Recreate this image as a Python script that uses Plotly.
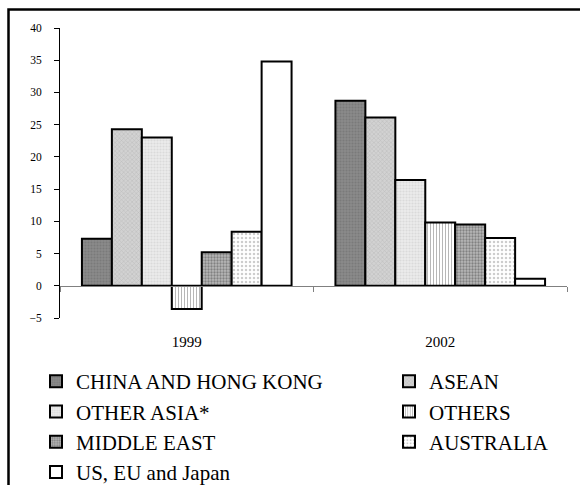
import plotly.graph_objects as go

# Years on the category axis
years = ["1999", "2002"]

# Series names and their values (per cent) for 1999 and 2002
china_hk = [7.3, 28.7]
asean = [24.3, 26.1]
other_asia = [23.0, 16.4]
others = [-3.6, 9.8]
middle_east = [5.2, 9.5]
australia = [8.4, 7.4]
us_eu_japan = [34.8, 1.1]

# name, values, fill pattern, legend column
series = [
    ("CHINA AND HONG KONG", china_hk, dict(shape=".", fgcolor="#6a6a6a", bgcolor="#8a8a8a", size=3, solidity=0.4), "legend"),
    ("ASEAN", asean, dict(shape="x", fgcolor="#a8a8a8", bgcolor="#d2d2d2", size=3, solidity=0.35), "legend2"),
    ("OTHER ASIA*", other_asia, dict(shape=".", fgcolor="#c8c8c8", bgcolor="#ececec", size=3, solidity=0.4), "legend"),
    ("OTHERS", others, dict(shape="|", fgcolor="#707070", bgcolor="#ffffff", size=3, solidity=0.35), "legend2"),
    ("MIDDLE EAST", middle_east, dict(shape=".", fgcolor="#4a4a4a", bgcolor="#b8b8b8", size=3, solidity=0.45), "legend"),
    ("AUSTRALIA", australia, dict(shape=".", fgcolor="#9a9a9a", bgcolor="#ffffff", size=4, solidity=0.3), "legend2"),
    ("US, EU and Japan", us_eu_japan, dict(shape="", fgcolor="#ffffff", bgcolor="#ffffff"), "legend"),
]

W, H = 580, 485
ML, MR, MT, MB = 60, 13, 28, 167
PW, PH = W - ML - MR, H - MT - MB
FONT = "Liberation Serif, Times New Roman, serif"


def px_x(px):
    return (px - ML) / PW


def px_y(py):
    return (H - MB - py) / PH


fig = go.Figure()
for name, vals, pat, leg in series:
    fig.add_trace(go.Bar(
        name=name, x=years, y=vals, legend=leg,
        marker=dict(color=pat["bgcolor"], line=dict(color="black", width=2), pattern=pat),
    ))

# outer frame: its top and left edges, drawn as one open path
x_left, y_top = px_x(8.5), px_y(9.5)
x_right, y_bottom = px_x(W + 5), px_y(H + 5)
fig.add_shape(type="path", xref="paper", yref="paper", layer="above",
              path=f"M {x_right},{y_top} L {x_left},{y_top} L {x_left},{y_bottom}",
              line=dict(color="black", width=2.5), fillcolor="rgba(0,0,0,0)")

legend_common = dict(
    orientation="v", xanchor="left", yanchor="top", yref="container",
    y=1 - 361 / H,
    font=dict(family=FONT, size=21), traceorder="normal",
    itemclick=False, itemdoubleclick=False, bgcolor="rgba(0,0,0,0)",
    tracegroupgap=0,
)

fig.update_layout(
    width=W, height=H,
    margin=dict(l=ML, r=MR, t=MT, b=MB, autoexpand=False),
    paper_bgcolor="white", plot_bgcolor="white",
    font=dict(family=FONT, color="black"),
    barmode="group", bargap=0.173, bargroupgap=0,
    showlegend=True,
    legend=dict(x=px_x(36), **legend_common),
    legend2=dict(x=px_x(389), **legend_common),
    xaxis=dict(
        type="category", anchor="free", position=5 / 45,
        showline=True, linecolor="#808080", linewidth=1,
        ticks="outside", tickson="boundaries", ticklen=5, tickcolor="#808080",
        ticklabelstandoff=42, tickfont=dict(size=15, family=FONT),
        showgrid=False, zeroline=False,
    ),
    yaxis=dict(
        range=[-5, 40], dtick=5, tick0=0,
        showline=True, linecolor="black", linewidth=1,
        ticks="outside", ticklen=5, tickcolor="black",
        ticklabelstandoff=10, tickfont=dict(size=11.5, family=FONT),
        showgrid=False, zeroline=False,
    ),
)

fig.write_html("out.html")
